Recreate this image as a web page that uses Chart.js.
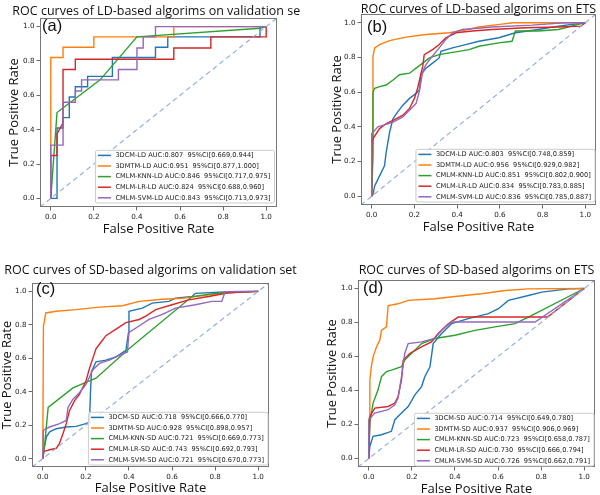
<!DOCTYPE html>
<html>
<head>
<meta charset="utf-8">
<script src="https://cdn.jsdelivr.net/npm/chart.js@4.4.0/dist/chart.umd.min.js"></script>
<style>
  html, body { margin: 0; padding: 0; background: #fff; }
  body { width: 600px; height: 495px; position: relative; overflow: hidden; }
  canvas { position: absolute; }
</style>
</head>
<body>
<canvas id="panelA" width="300" height="247" style="left:0;top:0"></canvas>
<canvas id="panelB" width="300" height="247" style="left:300px;top:0"></canvas>
<canvas id="panelC" width="300" height="260" style="left:0;top:247px"></canvas>
<canvas id="panelD" width="300" height="260" style="left:300px;top:247px"></canvas>
<script>
// shared axis ticks and colours
const tickValues = [0, 0.2, 0.4, 0.6, 0.8, 1.0];
const seriesColors = ['#1f77b4', '#ff7f0e', '#2ca02c', '#d62728', '#9467bd'];
const diagonal = [[-0.05, -0.05], [1.05, 1.05]];

// (a) LD-based, validation set  -- [fpr, tpr]
const ldValDcm = [[0,0],[0.029,0],[0.029,0.41],[0.057,0.41],[0.057,0.47],[0.086,0.47],[0.086,0.59],[0.114,0.59],[0.114,0.65],[0.171,0.65],[0.171,0.71],[0.286,0.71],[0.286,0.82],[0.486,0.82],[0.486,0.88],[0.543,0.88],[0.543,0.94],[0.971,0.94],[0.971,1],[1,1]];
const ldValDmtm = [[0,0],[0,0.82],[0.057,0.82],[0.057,0.88],[0.2,0.88],[0.2,0.94],[0.571,0.94],[0.571,1],[1,1]];
const ldValKnn = [[0,0],[0.029,0.5],[0.229,0.69],[0.4,0.94],[0.971,0.99],[1,1]];
const ldValLr = [[0,0],[0,0.25],[0.029,0.25],[0.029,0.375],[0.057,0.44],[0.057,0.75],[0.114,0.75],[0.114,0.81],[0.571,0.81],[0.571,0.875],[0.743,0.875],[0.743,0.94],[1,0.94],[1,1]];
const ldValSvm = [[0,0],[0,0.31],[0.057,0.31],[0.057,0.56],[0.114,0.56],[0.114,0.625],[0.143,0.625],[0.143,0.69],[0.314,0.69],[0.314,0.75],[0.4,0.75],[0.4,0.875],[0.429,0.875],[0.429,0.94],[0.486,0.94],[0.486,1],[1,1]];
const ldValLabels = [
  '3DCM-LD AUC:0.807  95%CI[0.669,0.944]',
  '3DMTM-LD AUC:0.951  95%CI[0.877,1.000]',
  'CMLM-KNN-LD AUC:0.846  95%CI[0.717,0.975]',
  'CMLM-LR-LD AUC:0.824  95%CI[0.688,0.960]',
  'CMLM-SVM-LD AUC:0.843  95%CI[0.713,0.973]'
];

// (b) LD-based, ETS
const ldEtsDcm = [[0,0],[0.006,0.01],[0.014,0.06],[0.037,0.118],[0.06,0.176],[0.068,0.254],[0.076,0.312],[0.084,0.37],[0.1,0.448],[0.122,0.486],[0.146,0.525],[0.177,0.564],[0.208,0.593],[0.223,0.612],[0.231,0.7],[0.254,0.738],[0.285,0.767],[0.316,0.797],[0.324,0.835],[0.378,0.855],[0.44,0.874],[0.502,0.893],[0.595,0.913],[0.673,0.942],[0.78,0.961],[0.874,0.98],[1,1]];
const ldEtsDmtm = [[0,0],[0.005,0.3],[0.006,0.806],[0.014,0.855],[0.037,0.874],[0.084,0.897],[0.16,0.917],[0.254,0.932],[0.363,0.942],[0.45,0.96],[0.5,0.975],[0.6,0.99],[0.66,1],[1,1]];
const ldEtsKnn = [[0,0],[0.006,0.234],[0.006,0.6],[0.014,0.622],[0.037,0.632],[0.068,0.641],[0.1,0.67],[0.13,0.7],[0.177,0.709],[0.208,0.738],[0.239,0.767],[0.27,0.797],[0.316,0.816],[0.363,0.826],[0.409,0.835],[0.456,0.845],[0.502,0.864],[0.595,0.884],[0.657,0.893],[0.673,0.952],[0.78,0.952],[0.874,0.961],[0.936,0.98],[1,1]];
const ldEtsLr = [[0,0],[0,0.3],[0.005,0.33],[0.037,0.39],[0.068,0.419],[0.1,0.438],[0.146,0.467],[0.177,0.506],[0.2,0.564],[0.215,0.622],[0.231,0.709],[0.239,0.748],[0.246,0.816],[0.285,0.845],[0.316,0.874],[0.347,0.913],[0.394,0.942],[0.471,0.952],[0.564,0.961],[0.72,0.971],[0.874,0.975],[0.98,0.98],[1,1]];
const ldEtsSvm = [[0,0],[0,0.36],[0.029,0.4],[0.053,0.409],[0.1,0.428],[0.146,0.457],[0.177,0.496],[0.208,0.535],[0.223,0.603],[0.239,0.719],[0.254,0.758],[0.277,0.797],[0.316,0.855],[0.347,0.903],[0.378,0.942],[0.425,0.961],[0.564,0.975],[0.75,0.986],[0.905,1],[1,1]];
const ldEtsLabels = [
  '3DCM-LD AUC:0.803  95%CI[0.748,0.859]',
  '3DMTM-LD AUC:0.956  95%CI[0.929,0.982]',
  'CMLM-KNN-LD AUC:0.851  95%CI[0.802,0.900]',
  'CMLM-LR-LD AUC:0.834  95%CI[0.783,0.885]',
  'CMLM-SVM-LD AUC:0.836  95%CI[0.785,0.887]'
];

// (c) SD-based, validation set
const sdValDcm = [[0,0],[0.005,0.053],[0.017,0.13],[0.032,0.16],[0.063,0.179],[0.109,0.189],[0.155,0.193],[0.2,0.209],[0.217,0.218],[0.221,0.384],[0.226,0.52],[0.247,0.579],[0.293,0.589],[0.34,0.608],[0.386,0.647],[0.398,0.754],[0.4,0.881],[0.462,0.9],[0.508,0.93],[0.585,0.94],[0.616,0.959],[0.693,0.969],[0.708,0.988],[0.862,0.998],[1,1]];
const sdValDmtm = [[0,0],[0.003,0.79],[0.014,0.871],[0.063,0.881],[0.155,0.891],[0.263,0.906],[0.37,0.914],[0.447,0.94],[0.555,0.953],[0.647,0.959],[0.739,0.973],[0.831,0.988],[0.923,0.998],[1,1]];
const sdValKnn = [[0,0],[0.01,0.1],[0.025,0.306],[0.14,0.423],[0.247,0.481],[0.4,0.657],[0.693,0.969],[0.8,0.988],[1,1]];
const sdValLr = [[0,0],[0.005,0.043],[0.032,0.053],[0.063,0.062],[0.078,0.092],[0.094,0.15],[0.109,0.209],[0.124,0.287],[0.147,0.345],[0.17,0.384],[0.2,0.462],[0.217,0.54],[0.232,0.598],[0.247,0.657],[0.27,0.696],[0.293,0.735],[0.34,0.774],[0.386,0.813],[0.447,0.832],[0.478,0.852],[0.524,0.891],[0.6,0.92],[0.677,0.949],[0.77,0.969],[0.862,0.992],[1,1]];
const sdValSvm = [[0,0],[0.003,0.17],[0.032,0.189],[0.078,0.209],[0.109,0.228],[0.117,0.306],[0.14,0.355],[0.17,0.394],[0.2,0.442],[0.232,0.53],[0.263,0.569],[0.309,0.589],[0.355,0.618],[0.393,0.637],[0.4,0.754],[0.447,0.793],[0.493,0.832],[0.555,0.862],[0.616,0.9],[0.708,0.92],[0.785,0.94],[0.831,0.94],[0.846,0.998],[1,1]];
const sdValLabels = [
  '3DCM-SD AUC:0.718  95%CI[0.666,0.770]',
  '3DMTM-SD AUC:0.928  95%CI[0.898,0.957]',
  'CMLM-KNN-SD AUC:0.721  95%CI[0.669,0.773]',
  'CMLM-LR-SD AUC:0.743  95%CI[0.692,0.793]',
  'CMLM-SVM-SD AUC:0.721  95%CI[0.670,0.773]'
];

// (d) SD-based, ETS
const sdEtsDcm = [[0,0],[0.005,0.072],[0.02,0.13],[0.059,0.14],[0.105,0.16],[0.121,0.228],[0.152,0.267],[0.183,0.306],[0.214,0.374],[0.245,0.423],[0.26,0.481],[0.284,0.54],[0.299,0.676],[0.338,0.735],[0.384,0.793],[0.462,0.823],[0.555,0.852],[0.602,0.881],[0.648,0.93],[0.741,0.959],[0.803,0.979],[0.927,0.998],[1,1]];
const sdEtsDmtm = [[0,0],[0.002,0.238],[0.005,0.462],[0.012,0.54],[0.02,0.598],[0.036,0.657],[0.051,0.696],[0.059,0.754],[0.082,0.774],[0.09,0.9],[0.136,0.91],[0.183,0.93],[0.307,0.94],[0.4,0.953],[0.524,0.969],[0.633,0.988],[0.741,0.998],[1,1]];
const sdEtsKnn = [[0,0],[0.005,0.209],[0.02,0.326],[0.043,0.404],[0.059,0.481],[0.082,0.511],[0.105,0.52],[0.152,0.54],[0.167,0.579],[0.198,0.618],[0.245,0.676],[0.307,0.706],[0.4,0.725],[0.493,0.754],[0.586,0.774],[0.679,0.793],[0.741,0.832],[1,1]];
const sdEtsLr = [[0,0],[0.005,0.248],[0.028,0.296],[0.09,0.306],[0.121,0.326],[0.136,0.365],[0.152,0.462],[0.16,0.579],[0.19,0.618],[0.245,0.657],[0.291,0.686],[0.322,0.735],[0.369,0.793],[0.415,0.832],[0.83,0.832],[1,1]];
const sdEtsSvm = [[0,0],[0,0.228],[0.028,0.267],[0.09,0.287],[0.121,0.316],[0.136,0.355],[0.152,0.481],[0.167,0.618],[0.183,0.676],[0.245,0.686],[0.307,0.706],[0.338,0.754],[0.384,0.803],[0.772,0.803],[1,1]];
const sdEtsLabels = [
  '3DCM-SD AUC:0.714  95%CI[0.649,0.780]',
  '3DMTM-SD AUC:0.937  95%CI[0.906,0.969]',
  'CMLM-KNN-SD AUC:0.723  95%CI[0.658,0.787]',
  'CMLM-LR-SD AUC:0.730  95%CI[0.666,0.794]',
  'CMLM-SVM-SD AUC:0.726  95%CI[0.662,0.791]'
];

const panelTitles = [
  'ROC curves of LD-based algorims on validation set',
  'ROC curves of LD-based algorims on ETS',
  'ROC curves of SD-based algorims on validation set',
  'ROC curves of SD-based algorims on ETS'
];

// frame, title, panel letter and the legend box drawn inside the plot
const panelDecor = {
  id: 'panelDecor',
  afterDatasetsDraw(chart, args, o) {
    const ctx = chart.ctx, a = chart.chartArea;
    ctx.save();
    ctx.strokeStyle = '#767676';
    ctx.lineWidth = 1;
    ctx.strokeRect(Math.round(a.left) + 0.5, Math.round(a.top) + 0.5,
      Math.round(a.right - a.left) - 1, Math.round(a.bottom - a.top) - 1);

    ctx.fillStyle = '#111';
    ctx.textAlign = 'center';
    ctx.textBaseline = 'alphabetic';
    ctx.font = '12.5px "Open Sans"';
    ctx.fillText(o.title, (a.left + a.right) / 2, o.titleY);

    ctx.textAlign = 'left';
    ctx.font = '16.5px "Liberation Sans"';
    ctx.fillText(o.letter, o.letterX, o.letterY);

    const labels = chart.data.datasets.filter(d => d.label).map(d => d.label);
    ctx.font = '6.6px "DejaVu Sans"';
    const textW = Math.max(...labels.map(s => ctx.measureText(s).width));
    const rowH = 10.6, lineLen = 13;
    const w = 2.5 + lineLen + 4.5 + textW + 4;
    const h = 10.3 + rowH * (labels.length - 1);
    const x0 = a.right - o.gapX - w, y0 = a.bottom - o.gapY - h;
    ctx.fillStyle = 'rgba(255,255,255,0.8)';
    ctx.strokeStyle = '#cccccc';
    ctx.beginPath();
    if (ctx.roundRect) ctx.roundRect(x0, y0, w, h, 2); else ctx.rect(x0, y0, w, h);
    ctx.fill();
    ctx.stroke();
    ctx.textBaseline = 'middle';
    labels.forEach((s, i) => {
      const cy = y0 + 5.1 + i * rowH;
      ctx.strokeStyle = seriesColors[i];
      ctx.lineWidth = 1.5;
      ctx.beginPath();
      ctx.moveTo(x0 + 2.5, cy);
      ctx.lineTo(x0 + 2.5 + lineLen, cy);
      ctx.stroke();
      ctx.fillStyle = '#222';
      ctx.fillText(s, x0 + 2.5 + lineLen + 4.5, cy);
    });
    ctx.restore();
  }
};

function buildDatasets(series, labels) {
  const sets = series.map((pts, i) => ({
    label: labels[i],
    data: pts.map(([x, y]) => ({ x, y })),
    borderColor: seriesColors[i],
    borderWidth: 1.4,
    showLine: true,
    pointRadius: 0,
    tension: 0,
    order: 5 - i
  }));
  sets.push({
    data: diagonal.map(([x, y]) => ({ x, y })),
    borderColor: '#8eaadb',
    borderWidth: 1.1,
    borderDash: [5, 3.5],
    showLine: true,
    pointRadius: 0,
    order: 0
  });
  return sets;
}

function axis(titleText, titlePad, fitFn) {
  return {
    type: 'linear',
    min: -0.05,
    max: 1.05,
    afterBuildTicks: ax => { ax.ticks = tickValues.map(v => ({ value: v })); },
    afterFit: fitFn,
    ticks: {
      font: { family: 'DejaVu Sans', size: 7.2 },
      color: '#222',
      padding: 2,
      autoSkip: false,
      maxRotation: 0,
      callback: v => v.toFixed(1)
    },
    grid: { drawOnChartArea: false, drawTicks: true, tickLength: 3.5, color: '#444', lineWidth: 0.8 },
    border: { display: false },
    title: {
      display: true,
      text: titleText,
      color: '#111',
      font: { family: 'Open Sans', size: 13, lineHeight: 1 },
      padding: titlePad
    }
  };
}

function makePanel(id, cfg) {
  const canvas = document.getElementById(id);
  const W = canvas.width, H = canvas.height, ar = cfg.area;
  new Chart(canvas, {
    type: 'scatter',
    data: { datasets: buildDatasets(cfg.series, cfg.labels) },
    plugins: [panelDecor],
    options: {
      responsive: false,
      animation: false,
      layout: { padding: { left: 0, top: ar.t, right: W - ar.r, bottom: 0 } },
      plugins: {
        legend: { display: false },
        tooltip: { enabled: false },
        panelDecor: {
          title: cfg.title, titleY: cfg.titleY,
          letter: cfg.letter, letterX: cfg.letterX, letterY: cfg.letterY,
          gapX: cfg.gapX, gapY: cfg.gapY
        }
      },
      scales: {
        x: axis('False Positive Rate', { top: 0, bottom: cfg.xTitlePad }, s => { s.height = H - ar.b; }),
        y: axis('True Positive Rate', { top: cfg.yTitlePad, bottom: 0 }, s => { s.width = ar.l; })
      }
    }
  });
}

makePanel('panelA', {
  series: [ldValDcm, ldValDmtm, ldValKnn, ldValLr, ldValSvm], labels: ldValLabels,
  title: panelTitles[0], letter: '(a)',
  area: { l: 40, t: 18, r: 277, b: 207 },
  titleY: 15, letterX: 42, letterY: 30.5, xTitlePad: 11.5, yTitlePad: 7.8, gapX: 2.5, gapY: 4
});
makePanel('panelB', {
  series: [ldEtsDcm, ldEtsDmtm, ldEtsKnn, ldEtsLr, ldEtsSvm], labels: ldEtsLabels,
  title: panelTitles[1], letter: '(b)',
  area: { l: 61, t: 14, r: 296, b: 205 },
  titleY: 13.3, letterX: 67, letterY: 32, xTitlePad: 13.5, yTitlePad: 31.2, gapX: 1, gapY: 3
});
makePanel('panelC', {
  series: [sdValDcm, sdValDmtm, sdValKnn, sdValLr, sdValSvm], labels: sdValLabels,
  title: panelTitles[2], letter: '(c)',
  area: { l: 32, t: 36, r: 269, b: 220 },
  titleY: 27.3, letterX: 36, letterY: 47, xTitlePad: 12.5, yTitlePad: 1.2, gapX: 1, gapY: 2
});
makePanel('panelD', {
  series: [sdEtsDcm, sdEtsDmtm, sdEtsKnn, sdEtsLr, sdEtsSvm], labels: sdEtsLabels,
  title: panelTitles[3], letter: '(d)',
  area: { l: 58, t: 33, r: 295, b: 220 },
  titleY: 27, letterX: 63, letterY: 46, xTitlePad: 11, yTitlePad: 26.2, gapX: 1, gapY: 1
});
</script>
</body>
</html>
